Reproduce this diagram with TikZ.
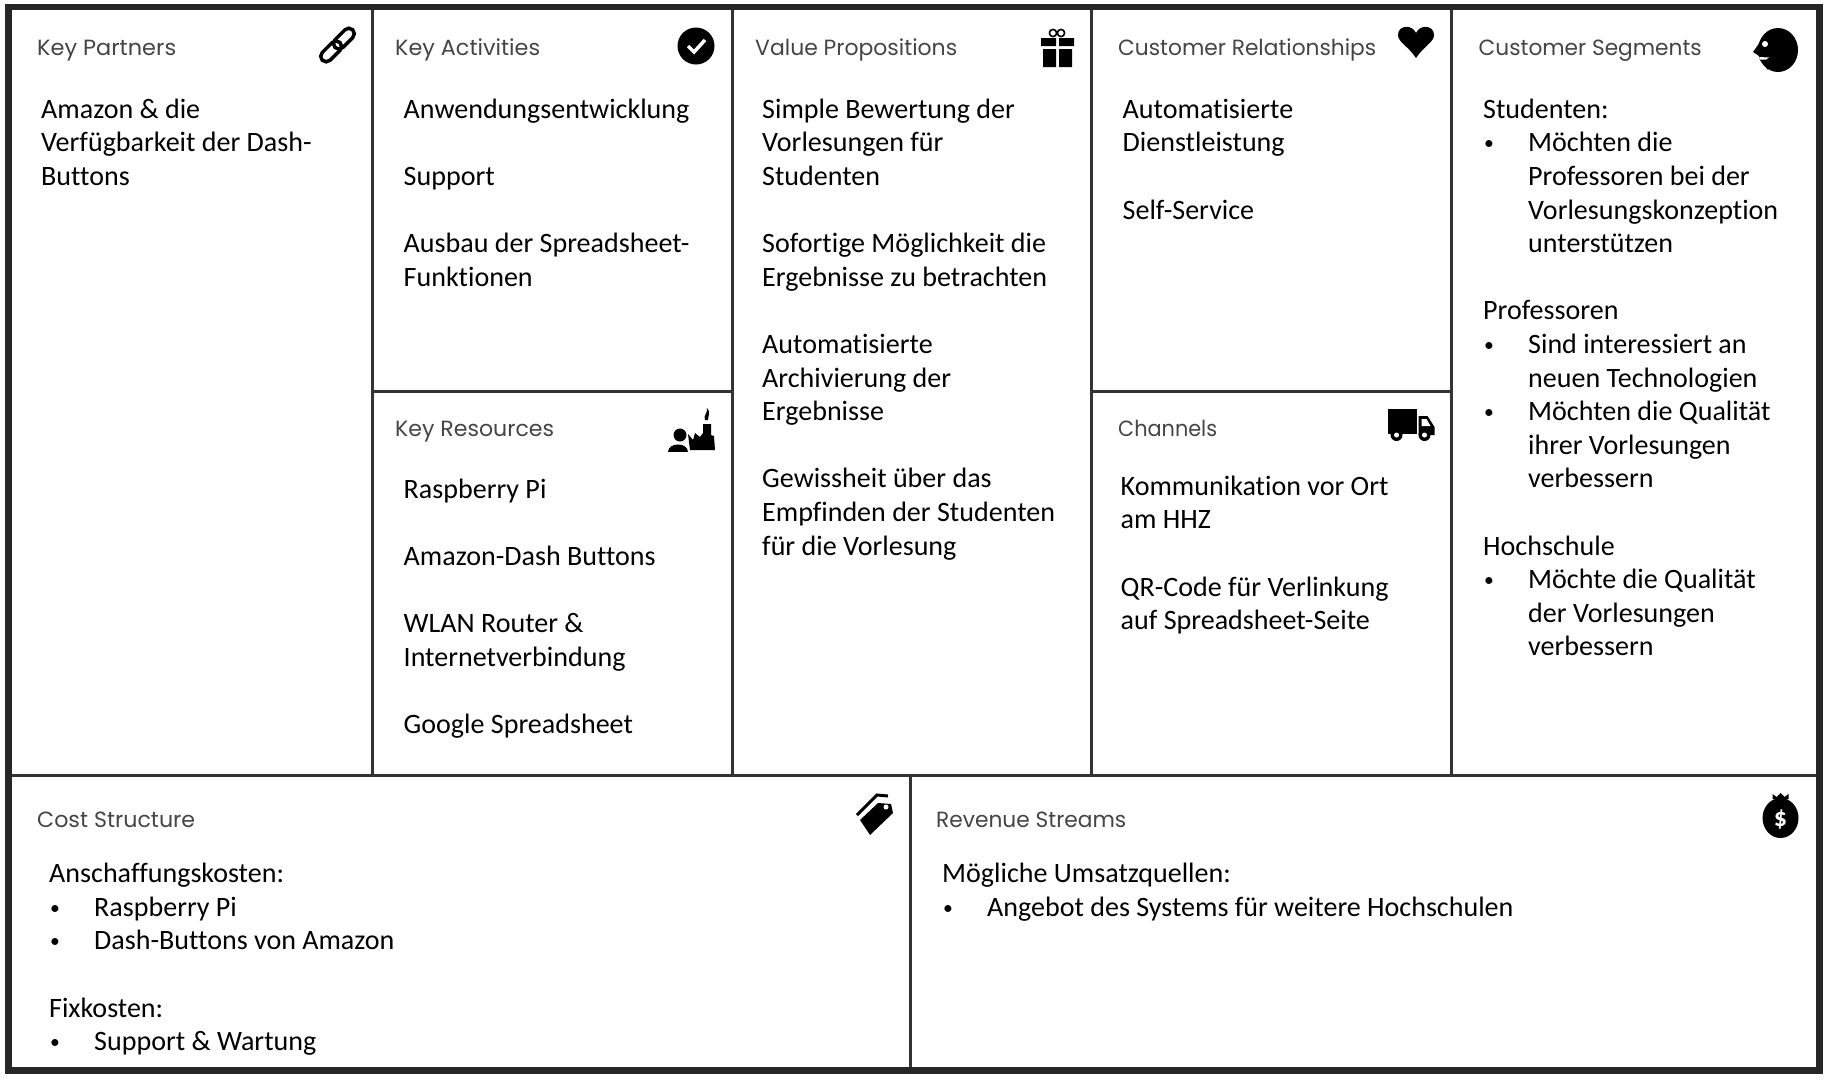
\documentclass[tikz,border=0pt]{standalone}
\usepackage{fontspec}
\usepackage{graphicx}
\setmainfont[Ligatures=NoCommon]{Carlito}
\newfontfamily\hdrfont{Poppins}
\newcommand{\hdr}[2]{\resizebox{#1pt}{\height}{\hdrfont #2}}
\newcommand{\gap}{\\[33.6pt]}
\newcommand{\fs}{\rule{0pt}{23pt}}
\newcommand{\bl}{\makebox[45pt][l]{\hspace{1pt}\raisebox{2pt}{\scalebox{.7}{•}}}}
\newcommand{\ind}{\hspace*{45pt}}
\definecolor{framec}{HTML}{262626}
\definecolor{linec}{HTML}{333333}
\definecolor{hdrc}{HTML}{454545}
\tikzset{
 bodytext/.style={anchor=north west,inner sep=0pt,align=left,text=black,font=\fontsize{28.05}{33.6}\selectfont},
 hdrtext/.style={anchor=base west,inner sep=0pt,text=hdrc,font=\fontsize{22}{26}\selectfont},
 frameline/.style={draw=framec,line width=6.5pt},
 gridline/.style={draw=linec,line width=3pt},
 iconfill/.style={fill=black,draw=none},
}
\begin{document}
\begin{tikzpicture}[x=1pt,y=-1pt]
\useasboundingbox[fill=white] (0,0) rectangle (1827,1080);
% grid
\draw[gridline] (372.7,7)--(372.7,775);
\draw[gridline] (732.2,7)--(732.2,775);
\draw[gridline] (1091.7,7)--(1091.7,775);
\draw[gridline] (1451,7)--(1451,775);
\draw[gridline] (372.7,391.5)--(732.2,391.5);
\draw[gridline] (1091.7,391.5)--(1451,391.5);
\draw[gridline] (8,775)--(1819,775);
\draw[gridline] (910,775)--(910,1068);
\draw[frameline] (8.5,7) rectangle (1819.5,1070.5);
% headers
\node[hdrtext] (hkp) at (37,55) {\hdr{139}{Key Partners}};
\node[hdrtext] (hka) at (395,55) {\hdr{145}{Key Activities}};
\node[hdrtext] (hvp) at (755,55) {\hdr{202}{Value Propositions}};
\node[hdrtext] (hcr) at (1118,55) {\hdr{258}{Customer Relationships}};
\node[hdrtext] (hcs) at (1478.5,55) {\hdr{223}{Customer Segments}};
\node[hdrtext] (hkr) at (395,436) {\hdr{159}{Key Resources}};
\node[hdrtext] (hch) at (1118,436) {\hdr{99}{Channels}};
\node[hdrtext] (hcost) at (37,827) {\hdr{158}{Cost Structure}};
\node[hdrtext] (hrev) at (936,827) {\hdr{190}{Revenue Streams}};
% body
\node[bodytext] (kp) at (41,95) {\fs Amazon \& die\\Verfügbarkeit der Dash-\\Buttons};
\node[bodytext] (ka) at (403.5,95) {\fs Anwendungsentwicklung\gap Support\gap Ausbau der Spreadsheet-\\Funktionen};
\node[bodytext] (kr) at (403.5,475) {\fs Raspberry Pi\gap Amazon-Dash Buttons\gap WLAN Router \&\\Internetverbindung\gap Google Spreadsheet};
\node[bodytext] (vp) at (762,95) {\fs Simple Bewertung der\\Vorlesungen für\\Studenten\gap Sofortige Möglichkeit die\\Ergebnisse zu betrachten\gap Automatisierte\\Archivierung der\\Ergebnisse\gap Gewissheit über das\\Empfinden der Studenten\\für die Vorlesung};
\node[bodytext] (cr) at (1122.5,95) {\fs Automatisierte\\Dienstleistung\gap Self-Service};
\node[bodytext] (ch) at (1120.5,472) {\fs Kommunikation vor Ort\\am HHZ\gap QR-Code für Verlinkung\\auf Spreadsheet-Seite};
\node[bodytext] (cs) at (1483,95) {\fs Studenten:\\\bl Möchten die\\\ind Professoren bei der\\\ind Vorlesungskonzeption\\\ind unterstützen\gap Professoren\\\bl Sind interessiert an\\\ind neuen Technologien\\\bl Möchten die Qualität\\\ind ihrer Vorlesungen\\\ind verbessern\gap Hochschule\\\bl Möchte die Qualität\\\ind der Vorlesungen\\\ind verbessern};
\node[bodytext] (cost) at (49,859.5) {\fs Anschaffungskosten:\\\bl Raspberry Pi\\\bl Dash-Buttons von Amazon\gap Fixkosten:\\\bl Support \& Wartung};
\node[bodytext] (rev) at (942,859.5) {\fs Mögliche Umsatzquellen:\\\bl Angebot des Systems für weitere Hochschulen};
% link icon
\begin{scope}[rotate around={45:(337.5,45)}]
\draw[black,line width=3.5pt,rounded corners=5.5pt] (316,39.5) rectangle (341,50.5);
\draw[black,line width=3.5pt,rounded corners=5.5pt] (334,39.5) rectangle (359,50.5);
\end{scope}
% check icon
\fill[black] (696,46) circle (18.5);
\draw[white,line width=3.5pt] (688,46)--(694,52)--(705,40);
% gift icon
\draw[black,line width=1.6pt] (1053,33) circle (3.6) (1061,33) circle (3.6);
\fill[iconfill] (1041,38) rectangle (1056,46) (1059,38) rectangle (1074,46);
\fill[iconfill] (1043,49) rectangle (1056,67) (1059,49) rectangle (1072,67);
% heart icon
\fill[iconfill] (1416,58) .. controls (1408,46) and (1398,42) .. (1398,35) .. controls (1398,25) and (1412,24) .. (1416,33) .. controls (1420,24) and (1434,25) .. (1434,35) .. controls (1434,42) and (1424,46) .. (1416,58) -- cycle;
% head icon
\fill[black] (1778,50) ellipse (20 and 22);
\fill[iconfill] (1768,32)--(1760,42)--(1753,52)--(1759,56)--(1760,60)--(1768,70)--cycle;
\fill[white] (1765,44) circle (3);
\fill[white] (1759,57)--(1769,57.5)--(1766,59.5)--(1760,59.5)--cycle;
% factory icon
\fill[black] (680,435) circle (6.5);
\fill[iconfill] (668,452) .. controls (668,442) and (688,442) .. (688,452) -- cycle;
\fill[iconfill] (690,450)--(688,434)--(693,440)--(695,433)--(700,437)--(703,433)--(703,424)--(711,424)--(711,435)--(714,436)--(715,450)--cycle;
\fill[iconfill] (705,420) .. controls (703,415) and (708,413) .. (707,408) .. controls (711,412) and (708,416) .. (708,420) -- cycle;
% truck icon
\fill[iconfill] (1387.5,409) rectangle (1416.5,434);
\fill[iconfill] (1418.5,416)--(1427.5,416)--(1434.5,427)--(1434.5,435)--(1418.5,435)--cycle;
\fill[white] (1421.5,419)--(1426.5,419)--(1430.5,426)--(1421.5,426)--cycle;
\fill[black] (1396.5,435) circle (6) (1424.5,435) circle (6);
\fill[white] (1396.5,435) circle (2.5) (1424.5,435) circle (2.5);
% tag icon
\fill[iconfill] (860,820)--(878,803)--(891,804)--(893,813)--(870,835)--cycle;
\draw[black,line width=3pt] (857,815)--(877,795)--(888,796);
\fill[white] (886,807) circle (2.5);
% money bag icon
\fill[black] (1780.5,818) ellipse (18 and 20);
\fill[iconfill] (1773.5,801) rectangle (1787.5,805);
\fill[iconfill] (1772.5,799)--(1772.5,794)--(1776.5,797)--(1780.5,793)--(1784.5,797)--(1788.5,794)--(1788.5,799)--cycle;
\node[inner sep=0pt,text=white,font=\fontsize{26}{30}\selectfont\bfseries] (dollar) at (1780.5,820) {\$};
\end{tikzpicture}
\end{document}
